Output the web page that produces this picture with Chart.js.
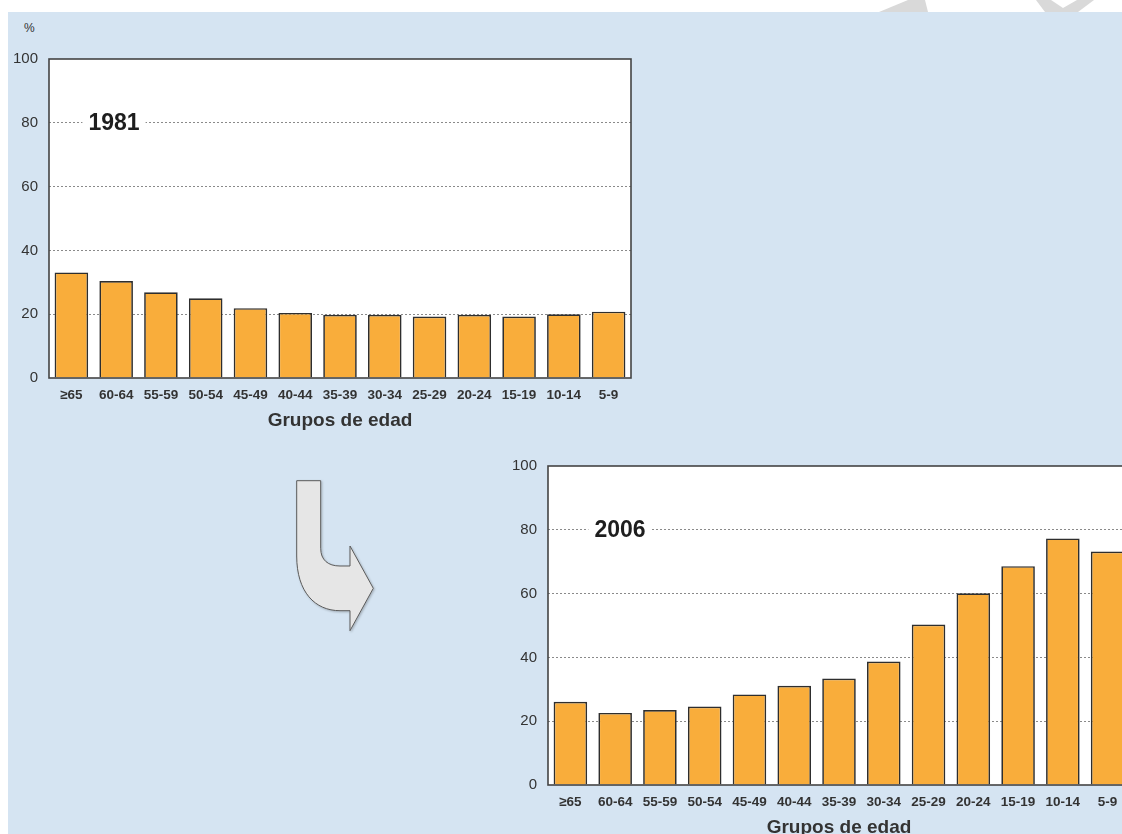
<!DOCTYPE html>
<html><head><meta charset="utf-8">
<script src="https://cdn.jsdelivr.net/npm/chart.js@4.4.0/dist/chart.umd.min.js"></script>
<style>
html,body{margin:0;padding:0;width:1122px;height:834px;overflow:hidden;background:#fff;font-family:"Liberation Sans",Arial,sans-serif;position:relative;}
#panel{position:absolute;left:8px;top:12px;width:1114px;height:822px;background:#D5E4F2;}
.box{position:absolute;width:660px;height:440px;}
#pct{position:absolute;left:24px;top:21px;font-size:12px;color:#333;}
svg{position:absolute;left:0;top:0;}
</style></head><body>
<svg width="1122" height="834">
  <polygon points="908,0 925,0 928,12 879,12" fill="#d9d9d9"/>
  <polygon points="1036,0 1051,0 1063,8 1077,0 1094,0 1078,12 1045,12" fill="#d9d9d9"/>
</svg>
<div id="panel"></div>
<div id="pct">%</div>
<svg width="1122" height="834">
  <defs><filter id="sh" x="-20%" y="-20%" width="140%" height="140%"><feDropShadow dx="1" dy="1" stdDeviation="1" flood-color="#000" flood-opacity="0.25"/></filter></defs>
  <path filter="url(#sh)" d="M296.7 480.7 L320.7 480.7 L320.7 548.3 C320.7 560 328 566 340 566 L350 566 L350 546 L373.3 588.3 L350 630.7 L350 610.7 L340 610.7 C315 610.7 296.7 592 296.7 556 Z" fill="#e6e6e6" stroke="#5a5a5a" stroke-width="1"/>
</svg>
<div class="box" style="left:0;top:0;"><canvas id="c1"></canvas></div>
<div class="box" style="left:499px;top:407px;"><canvas id="c2"></canvas></div>
<script>
const ageGroups = ['≥65','60-64','55-59','50-54','45-49','40-44','35-39','30-34','25-29','20-24','15-19','10-14','5-9'];
const values1981 = [33.1, 30.4, 26.9, 25.0, 21.9, 20.4, 19.8, 19.8, 19.3, 19.8, 19.3, 20.0, 20.8];
const values2006 = [26.1, 22.6, 23.5, 24.6, 28.4, 31.1, 33.4, 38.7, 50.3, 60.1, 68.6, 77.3, 73.2];
const yTicks = [0, 20, 40, 60, 80, 100];
const xTitle = 'Grupos de edad';

const frame = {
  id: 'frame',
  beforeDraw(chart) {
    const a = chart.chartArea, ctx = chart.ctx;
    ctx.save(); ctx.fillStyle = '#fff';
    ctx.fillRect(a.left, a.top, a.right - a.left, a.bottom - a.top);
    ctx.restore();
  },
  beforeDatasetsDraw(chart, args, opts) {
    const a = chart.chartArea, ctx = chart.ctx;
    const y = chart.scales.y.getPixelForValue(opts.value);
    const cx = a.left + opts.offset;
    ctx.save();
    ctx.font = 'bold 23px "Liberation Sans", Arial, sans-serif';
    const w = ctx.measureText(opts.text).width;
    ctx.fillStyle = '#fff';
    ctx.fillRect(cx - w / 2 - 6, y - 12, w + 12, 24);
    ctx.fillStyle = '#1e1e1e';
    ctx.textAlign = 'center'; ctx.textBaseline = 'middle';
    ctx.fillText(opts.text, cx, y + 1);
    ctx.restore();
  },
  afterDraw(chart) {
    const a = chart.chartArea, ctx = chart.ctx;
    ctx.save(); ctx.strokeStyle = '#444'; ctx.lineWidth = 1.6;
    ctx.strokeRect(a.left, a.top, a.right - a.left, a.bottom - a.top);
    ctx.restore();
  }
};

function makeChart(id, values, label, offset) {
  return new Chart(document.getElementById(id), {
    type: 'bar',
    data: { labels: ageGroups, datasets: [{ data: values, backgroundColor: '#F9AD3B', borderColor: '#2e2e2e', borderWidth: 1.7, categoryPercentage: 1, barPercentage: 0.75 }] },
    options: {
      responsive: true, maintainAspectRatio: false, animation: false,
      layout: { padding: { top: 59, right: 29, left: 0, bottom: 8 } },
      plugins: { legend: { display: false }, tooltip: { enabled: false }, frame: { text: label, value: 80, offset: offset } },
      scales: {
        x: {
          grid: { display: false }, border: { display: false },
          ticks: { color: '#333', font: { family: '"Liberation Sans", Arial, sans-serif', size: 13.5, weight: 'bold' }, padding: 1, autoSkip: false, maxRotation: 0, minRotation: 0 },
          title: { display: true, text: xTitle, color: '#333', font: { family: '"Liberation Sans", Arial, sans-serif', size: 19, weight: 'bold' }, padding: { top: 0, bottom: 0 } },
          afterFit(s) { s.height = 54; }
        },
        y: {
          min: 0, max: 100,
          afterBuildTicks(s) { s.ticks = yTicks.map(v => ({ value: v })); },
          grid: { drawTicks: false, color: ctx => (ctx.tick && (ctx.tick.value === 0 || ctx.tick.value === 100)) ? 'rgba(0,0,0,0)' : '#8a8a8a', lineWidth: 1 },
          border: { display: false, dash: [2, 2] },
          ticks: { color: '#333', font: { family: '"Liberation Sans", Arial, sans-serif', size: 15 }, padding: 11 },
          afterFit(s) { s.width = 49; }
        }
      }
    },
    plugins: [frame]
  });
}
makeChart('c1', values1981, '1981', 65);
makeChart('c2', values2006, '2006', 72);
</script>
</body></html>
